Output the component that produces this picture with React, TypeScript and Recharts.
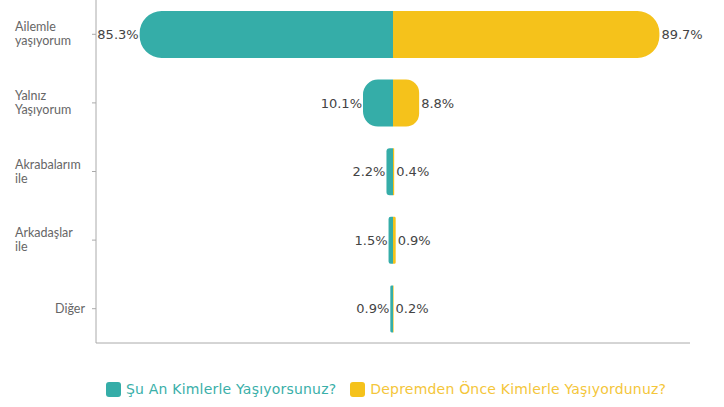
import { BarChart, Bar, XAxis, YAxis, LabelList } from 'recharts';

// kategoriler ve yüzdeler
const categories = ['Ailemle yaşıyorum', 'Yalnız Yaşıyorum', 'Akrabalarım ile', 'Arkadaşlar ile', 'Diğer'];
const nowValues = [85.3, 10.1, 2.2, 1.5, 0.9];
const beforeValues = [89.7, 8.8, 0.4, 0.9, 0.2];
const seriesNames = ['Şu An Kimlerle Yaşıyorsunuz?', 'Depremden Önce Kimlerle Yaşıyordunuz?'];
const xTicks = [-100, -50, 0, 50, 100];

const TEAL = '#35ADA8';
const YELLOW = '#F5C21B';

const data = categories.map((name, i) => ({
  name,
  now: -nowValues[i],
  before: beforeValues[i],
}));

// dış kenarı yuvarlatılmış çubuk
function RoundBar(props: any) {
  const { x, y, width, height, fill, side } = props;
  const left = width < 0 ? x + width : x;
  const w = Math.abs(width);
  if (!w) return null;
  const r = Math.min(22, w / 2, height / 2);
  const right = left + w;
  let d;
  if (side === 'left') {
    d = `M${left + r},${y} H${right} V${y + height} H${left + r} A${r},${r} 0 0 1 ${left},${y + height - r} V${y + r} A${r},${r} 0 0 1 ${left + r},${y} Z`;
  } else {
    d = `M${left},${y} H${right - r} A${r},${r} 0 0 1 ${right},${y + r} V${y + height - r} A${r},${r} 0 0 1 ${right - r},${y + height} H${left} Z`;
  }
  return <path d={d} fill={fill} />;
}

function ValueLabel(props: any) {
  const { x, y, width, height, value, side } = props;
  const left = width < 0 ? x + width : x;
  const right = left + Math.abs(width);
  const tx = side === 'left' ? left - 1 : right + 2;
  return (
    <text
      x={tx}
      y={y + height / 2}
      dy={4.5}
      textAnchor={side === 'left' ? 'end' : 'start'}
      fontSize={13}
      fill="#444"
      fontFamily="'DejaVu Sans', sans-serif"
    >
      {Math.abs(value).toFixed(1)}%
    </text>
  );
}

function CategoryTick(props: any) {
  const { x, y, payload } = props;
  const words = String(payload.value).split(' ');
  if (words.length === 1) {
    return (
      <text x={x - 5} y={y} dy={4} textAnchor="end" fontSize={12.5} fill="#666" fontFamily="Lato, sans-serif">
        {words[0]}
      </text>
    );
  }
  return (
    <text x={15} y={y} textAnchor="start" fontSize={12.5} fill="#666" fontFamily="Lato, sans-serif">
      <tspan x={15} dy={-3}>{words[0]}</tspan>
      <tspan x={15} dy={14}>{words.slice(1).join(' ')}</tspan>
    </text>
  );
}

export default function App() {
  return (
    <div style={{ position: 'absolute', left: 0, top: 0, width: 724, height: 407, background: '#fff' }}>
      <BarChart
        width={724}
        height={350}
        data={data}
        layout="vertical"
        stackOffset="sign"
        barSize={47}
        margin={{ top: 0, right: 34, bottom: 1, left: 0 }}
      >
        <XAxis
          type="number"
          domain={[-100, 100]}
          ticks={xTicks}
          tick={false}
          tickSize={6}
          height={6}
          stroke="#aaa"
        />
        <YAxis
          type="category"
          dataKey="name"
          width={96}
          tickSize={4}
          tick={<CategoryTick />}
          stroke="#aaa"
        />
        <Bar
          dataKey="now"
          stackId="a"
          fill={TEAL}
          isAnimationActive={false}
          shape={(p: any) => <RoundBar {...p} side="left" />}
        >
          <LabelList dataKey="now" content={(p: any) => <ValueLabel {...p} side="left" />} />
        </Bar>
        <Bar
          dataKey="before"
          stackId="a"
          fill={YELLOW}
          isAnimationActive={false}
          shape={(p: any) => <RoundBar {...p} side="right" />}
        >
          <LabelList dataKey="before" content={(p: any) => <ValueLabel {...p} side="right" />} />
        </Bar>
      </BarChart>
      <div
        style={{
          position: 'absolute',
          top: 381,
          left: 106,
          display: 'flex',
          alignItems: 'center',
          fontFamily: "'DejaVu Sans', sans-serif",
          fontSize: 14,
          letterSpacing: 0.2,
          lineHeight: '16px',
        }}
      >
        <span style={{ width: 15, height: 15, borderRadius: 3, background: TEAL, marginRight: 5 }} />
        <span style={{ color: '#3AAFA9', marginRight: 14 }}>{seriesNames[0]}</span>
        <span style={{ width: 15, height: 15, borderRadius: 3, background: YELLOW, marginRight: 5 }} />
        <span style={{ color: '#F4C63A' }}>{seriesNames[1]}</span>
      </div>
    </div>
  );
}
